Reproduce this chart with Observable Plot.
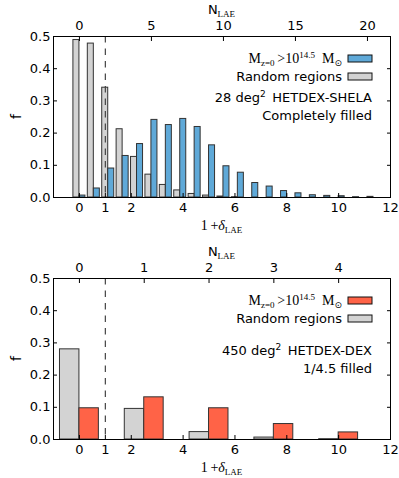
<!DOCTYPE html>
<html><head><meta charset="utf-8">
<script src="https://cdn.jsdelivr.net/npm/d3@7"></script>
<script src="https://cdn.jsdelivr.net/npm/@observablehq/plot@0.6"></script>
<style>
body{margin:0;background:#fff;}
#chart svg{display:block;}
</style></head><body><div id="chart"></div>
<script>
// ---------- data ----------
// Top panel: 28 deg^2 HETDEX-SHELA, completely filled
const topN = [0,1,2,3,4,5,6,7,8,9,10,11,12,13,14,15,16,17,18,19,20];
const topRandom = [0.489,0.478,0.341,0.212,0.126,0.071,0.039,0.022,0.011,0.006,0.003,0.001,0,0,0,0,0,0,0,0,0];
const topCluster = [0.006,0.028,0.090,0.129,0.166,0.241,0.225,0.244,0.219,0.162,0.097,0.077,0.045,0.034,0.020,0.013,0.007,0.005,0.004,0.001,0.002];
const topMeanN = 1.8;
const topNTicks = [0,5,10,15,20];
const topNote = ["28 deg", "HETDEX-SHELA", "Completely filled"];

// Bottom panel: 450 deg^2 HETDEX-DEX, 1/4.5 filled
const botN = [0,1,2,3,4];
const botRandom = [0.280,0.095,0.023,0.006,0.001];
const botCluster = [0.097,0.131,0.097,0.048,0.022];
const botMeanN = 0.4;
const botNTicks = [0,1,2,3,4];
const botNote = ["450 deg", "HETDEX-DEX", "1/4.5 filled"];

const deltaTicks = [0,1,2,4,6,8,10,12];
const fTicks = [0,0.1,0.2,0.3,0.4,0.5];
const randomLabel = "Random regions";

// ---------- helpers ----------
const SANS = "DejaVu Sans, sans-serif";
const SERIF = "Liberation Serif, DejaVu Serif, serif";
const NS = "http://www.w3.org/2000/svg";
function mk(tag, attrs, parent) {
  const e = document.createElementNS(NS, tag);
  for (const k in attrs) if (attrs[k] != null) e.setAttribute(k, attrs[k]);
  if (parent) parent.appendChild(e);
  return e;
}
function richText(parent, x, y, anchor, parts) {
  const t = mk("text", {x, y, "text-anchor": anchor, fill: "#000"}, parent);
  let shift = 0;
  for (const p of parts) {
    const target = p.sub ? 3 : p.sup ? -5 : 0;
    const ts = mk("tspan", {
      dy: target - shift,
      "font-family": p.font || SERIF,
      "font-size": p.size || 14,
      "font-style": p.italic ? "italic" : null
    }, t);
    ts.textContent = p.t;
    shift = target;
  }
  return t;
}

function panel({N, random, cluster, color, meanN, barW, nTicks, note, height, marginTop, marginBottom}) {
  const scale = 1 / meanN;
  const rows = [];
  N.forEach((n, i) => {
    const c = n * scale;
    rows.push({x1: c - barW, x2: c, y: random[i], kind: "random"});
    rows.push({x1: c, x2: c + barW, y: cluster[i], kind: "cluster"});
  });
  const decor = (index, scales, values, dim) => {
    const g = mk("g", {});
    const fTop = dim.marginTop;
    const fBot = dim.height - dim.marginBottom;
    const fL = dim.marginLeft, fR = dim.width - dim.marginRight;
    const cx = (fL + fR) / 2;
    // y label
    mk("text", {transform: `translate(${fL - 36},${(fTop + fBot) / 2}) rotate(-90)`, "text-anchor": "middle",
      "dominant-baseline": "middle", "font-family": SANS, "font-size": 14, fill: "#000"}, g).textContent = "f";
    // N_LAE label (top)
    richText(g, cx, fTop - 22, "middle", [
      {t: "N", font: SANS, size: 13},
      {t: "LAE", sub: true, size: 9}
    ]);
    // 1 + delta_LAE label (bottom)
    richText(g, cx, fBot + 33, "middle", [
      {t: "1\u2009+", size: 14},
      {t: "\u03b4", italic: true, size: 14},
      {t: "LAE", sub: true, size: 9}
    ]);
    // legend
    const sx = fR - 18 - 24, sw = 24, sh = 7;
    const r1 = fTop + 22.5, r2 = fTop + 40.5;
    richText(g, sx - 6, r1 + 4.5, "end", [
      {t: "M", size: 14},
      {t: "z=0", sub: true, size: 9},
      {t: "\u2009>10", size: 14},
      {t: "14.5", sup: true, size: 9},
      {t: "\u2002M", size: 14},
      {t: "\u2299", sub: true, size: 9, font: SANS}
    ]);
    mk("rect", {x: sx, y: r1 - sh / 2, width: sw, height: sh, fill: color, stroke: "#111", "stroke-width": 1}, g);
    mk("text", {x: sx - 6, y: r2 + 4.5, "text-anchor": "end", "font-family": SANS, "font-size": 13, fill: "#000"}, g).textContent = randomLabel;
    mk("rect", {x: sx, y: r2 - sh / 2, width: sw, height: sh, fill: "#d3d3d3", stroke: "#111", "stroke-width": 1}, g);
    // note
    const n1 = fTop + (note[0].startsWith("28") ? 61 : 72.5);
    richText(g, fR - 18, n1 + 4.5, "end", [
      {t: note[0], font: SANS, size: 13},
      {t: "2", sup: true, font: SANS, size: 9},
      {t: "\u2002" + note[1], font: SANS, size: 13}
    ]);
    mk("text", {x: fR - 18, y: n1 + 18 + 4.5, "text-anchor": "end", "font-family": SANS, "font-size": 13, fill: "#000"}, g).textContent = note[2];
    return g;
  };
  return Plot.plot({
    width: 399, height, marginTop, marginBottom, marginLeft: 53, marginRight: 9,
    style: {fontFamily: SANS, fontSize: "13px", color: "#000", background: "#fff", overflow: "visible"},
    x: {domain: [-1, 12]},
    y: {domain: [0, 0.5]},
    marks: [
      Plot.rectY(rows, {x1: "x1", x2: "x2", y: "y", fill: d => d.kind === "random" ? "#d3d3d3" : color,
        stroke: "#333", strokeWidth: 1}),
      Plot.ruleX([1], {stroke: "#444", strokeWidth: 1.2, strokeDasharray: "6.5,6"}),
      Plot.axisX(deltaTicks, {anchor: "bottom", tickSize: -4, tickPadding: 9.5, label: null, tickFormat: d => d}),
      Plot.axisX(nTicks.map(n => n * scale), {anchor: "top", tickSize: -4, tickPadding: 11, label: null,
        tickFormat: d => Math.round(d / scale)}),
      Plot.axisY(fTicks, {anchor: "left", tickSize: -4, tickPadding: 7, label: null, tickFormat: d => d.toFixed(1)}),
      Plot.axisY(fTicks, {anchor: "right", tickSize: -4, label: null, tickFormat: () => ""}),
      Plot.frame({stroke: "#000", strokeWidth: 1}),
      decor
    ]
  });
}

const chart = document.getElementById("chart");
chart.appendChild(panel({N: topN, random: topRandom, cluster: topCluster, color: "#5fa9d8", meanN: topMeanN,
  barW: 0.232, nTicks: topNTicks, note: topNote, height: 238, marginTop: 36, marginBottom: 41}));
chart.appendChild(panel({N: botN, random: botRandom, cluster: botCluster, color: "#ff6347", meanN: botMeanN,
  barW: 0.75, nTicks: botNTicks, note: botNote, height: 240, marginTop: 40, marginBottom: 39}));
</script>
</body></html>
